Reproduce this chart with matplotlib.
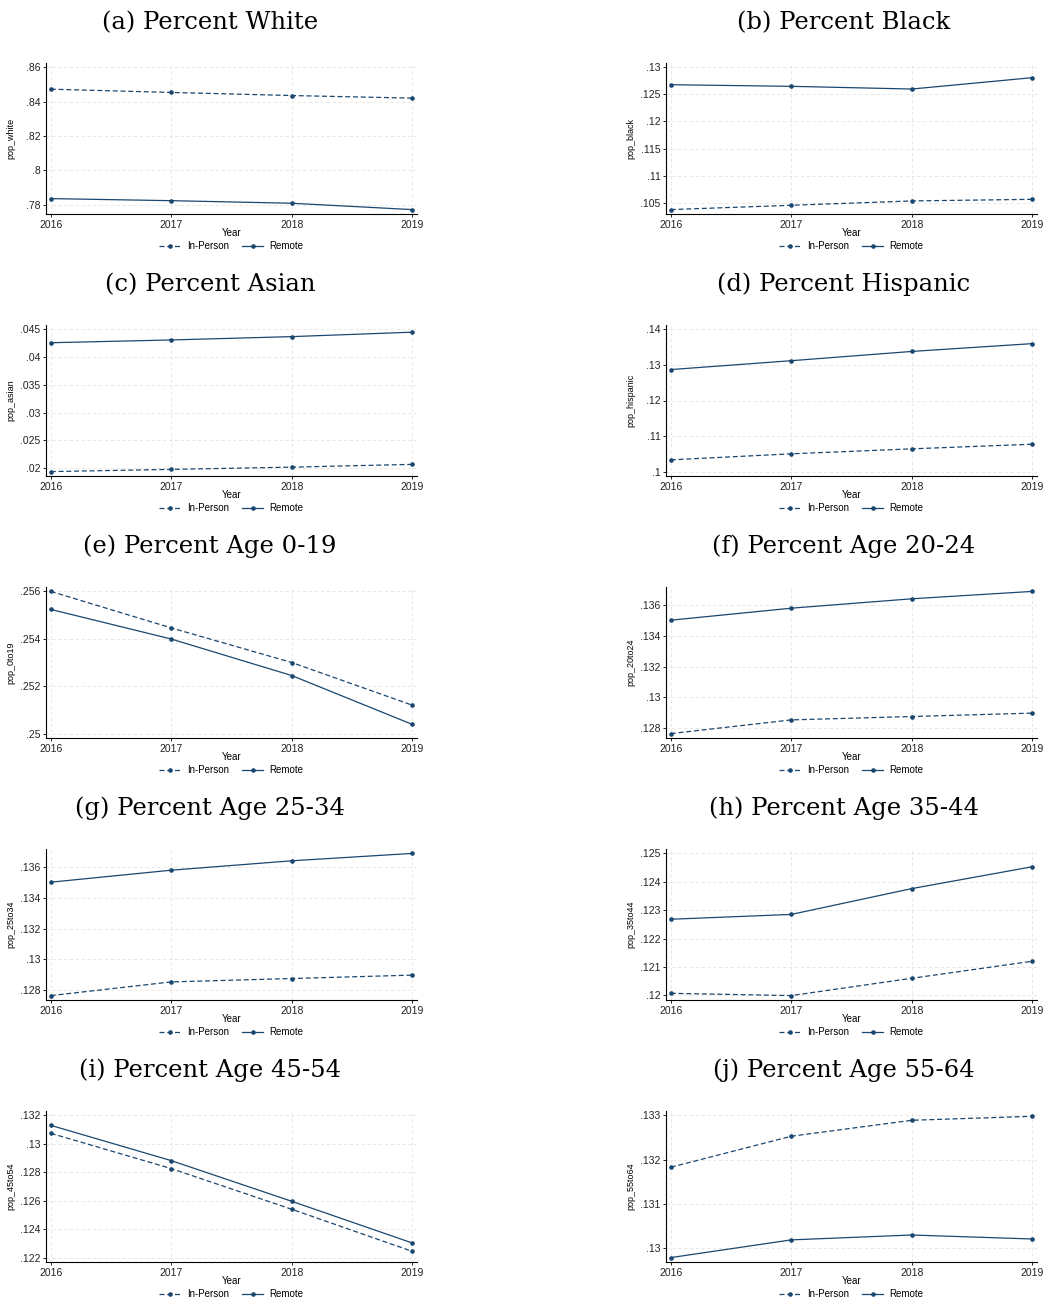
import matplotlib
matplotlib.use('Agg')
import matplotlib.pyplot as plt

plt.rcParams.update({
    'font.family': 'Liberation Sans',
    'font.size': 7,
    'axes.linewidth': 0.8,
})

years = [2016, 2017, 2018, 2019]

# values (In-Person = dashed, Remote = solid)
white_inperson = [0.8473, 0.8454, 0.8436, 0.8421]
white_remote = [0.7835, 0.7823, 0.7808, 0.7771]
black_inperson = [0.1037, 0.1045, 0.1053, 0.1056]
black_remote = [0.1268, 0.1265, 0.1260, 0.1281]
asian_inperson = [0.0194, 0.0198, 0.0202, 0.0207]
asian_remote = [0.0426, 0.0431, 0.0437, 0.0445]
hispanic_inperson = [0.1033, 0.1050, 0.1064, 0.1077]
hispanic_remote = [0.1287, 0.1312, 0.1338, 0.1360]
age0to19_inperson = [0.2560, 0.25446, 0.2530, 0.2512]
age0to19_remote = [0.25524, 0.25399, 0.25245, 0.25039]
age20to24_inperson = [0.12765, 0.12854, 0.12876, 0.12898]
age20to24_remote = [0.13502, 0.13580, 0.13641, 0.13689]
age25to34_inperson = [0.12765, 0.12854, 0.12876, 0.12898]
age25to34_remote = [0.13502, 0.13580, 0.13641, 0.13689]
age35to44_inperson = [0.12007, 0.11999, 0.12060, 0.12120]
age35to44_remote = [0.12268, 0.12285, 0.12376, 0.12453]
age45to54_inperson = [0.13074, 0.12826, 0.12540, 0.12244]
age45to54_remote = [0.13130, 0.12882, 0.12596, 0.12303]
age55to64_inperson = [0.13183, 0.13253, 0.13289, 0.13298]
age55to64_remote = [0.12979, 0.13019, 0.13030, 0.13021]

titles = ["(a) Percent White", "(b) Percent Black", "(c) Percent Asian",
          "(d) Percent Hispanic", "(e) Percent Age 0-19", "(f) Percent Age 20-24",
          "(g) Percent Age 25-34", "(h) Percent Age 35-44", "(i) Percent Age 45-54",
          "(j) Percent Age 55-64"]
ylabels = ["pop_white", "pop_black", "pop_asian", "pop_hispanic", "pop_0to19",
           "pop_20to24", "pop_25to34", "pop_35to44", "pop_45to54", "pop_55to64"]
yticks = [
    [0.78, 0.80, 0.82, 0.84, 0.86],
    [0.105, 0.110, 0.115, 0.120, 0.125, 0.130],
    [0.020, 0.025, 0.030, 0.035, 0.040, 0.045],
    [0.10, 0.11, 0.12, 0.13, 0.14],
    [0.250, 0.252, 0.254, 0.256],
    [0.128, 0.130, 0.132, 0.134, 0.136],
    [0.128, 0.130, 0.132, 0.134, 0.136],
    [0.120, 0.121, 0.122, 0.123, 0.124, 0.125],
    [0.122, 0.124, 0.126, 0.128, 0.130, 0.132],
    [0.130, 0.131, 0.132, 0.133],
]
inperson = [white_inperson, black_inperson, asian_inperson, hispanic_inperson,
            age0to19_inperson, age20to24_inperson, age25to34_inperson,
            age35to44_inperson, age45to54_inperson, age55to64_inperson]
remote = [white_remote, black_remote, asian_remote, hispanic_remote,
          age0to19_remote, age20to24_remote, age25to34_remote,
          age35to44_remote, age45to54_remote, age55to64_remote]

NAVY = '#1a476f'
W, H = 1043, 1300


def stata_label(v):
    # Stata drops the leading zero: 0.86 -> .86
    s = f"{round(v, 4):g}"
    return s[1:] if s.startswith('0') else s


fig = plt.figure(figsize=(W / 100, H / 100), dpi=100)

for i in range(10):
    row, col = divmod(i, 2)
    left_px = 46 if col == 0 else 666
    top_px = 63 + 262 * row
    ax = fig.add_axes([left_px / W, 1 - (top_px + 151) / H, 371 / W, 151 / H])

    ax.plot(years, inperson[i], color=NAVY, lw=0.9, dashes=(4, 2.2),
            marker='o', ms=2.3, label='In-Person')
    ax.plot(years, remote[i], color=NAVY, lw=0.9,
            marker='o', ms=2.3, label='Remote')

    # Stata-like range: data and ticks together, small plot-region margin
    vals = inperson[i] + remote[i] + yticks[i]
    lo, hi = min(vals), max(vals)
    pad = 0.031 * (hi - lo)
    ax.set_ylim(lo - pad, hi + pad)
    ax.set_xlim(2016 - 0.04, 2019 + 0.04)

    ax.set_yticks(yticks[i])
    ax.set_yticklabels([stata_label(v) for v in yticks[i]])
    ax.set_xticks(years)
    ax.tick_params(direction='out', length=2.5, width=0.7, labelsize=7.5,
                   pad=1.5, colors='#222222')
    ax.grid(True, color='#e4e4e4', lw=0.6, ls=(0, (4, 3)))
    ax.set_axisbelow(True)
    for s in ('top', 'right'):
        ax.spines[s].set_visible(False)

    ax.set_xlabel('Year', fontsize=7)
    ax.xaxis.set_label_coords(0.5, -0.095)
    ax.set_ylabel(ylabels[i], fontsize=6.5)
    ax.yaxis.set_label_coords(-31 / 371, 0.5)

    ax.legend(loc='center', bbox_to_anchor=(0.5, -0.215), ncol=2, frameon=False,
              fontsize=7, handlelength=2.1, handletextpad=0.7, columnspacing=1.4)

    cx = 210 if col == 0 else 844
    fig.text(cx / W, 1 - (29 + 262 * row) / H, titles[i], ha='center',
             va='baseline', family='DejaVu Serif', fontsize=17.5)

fig.savefig('out.png', dpi=100)
